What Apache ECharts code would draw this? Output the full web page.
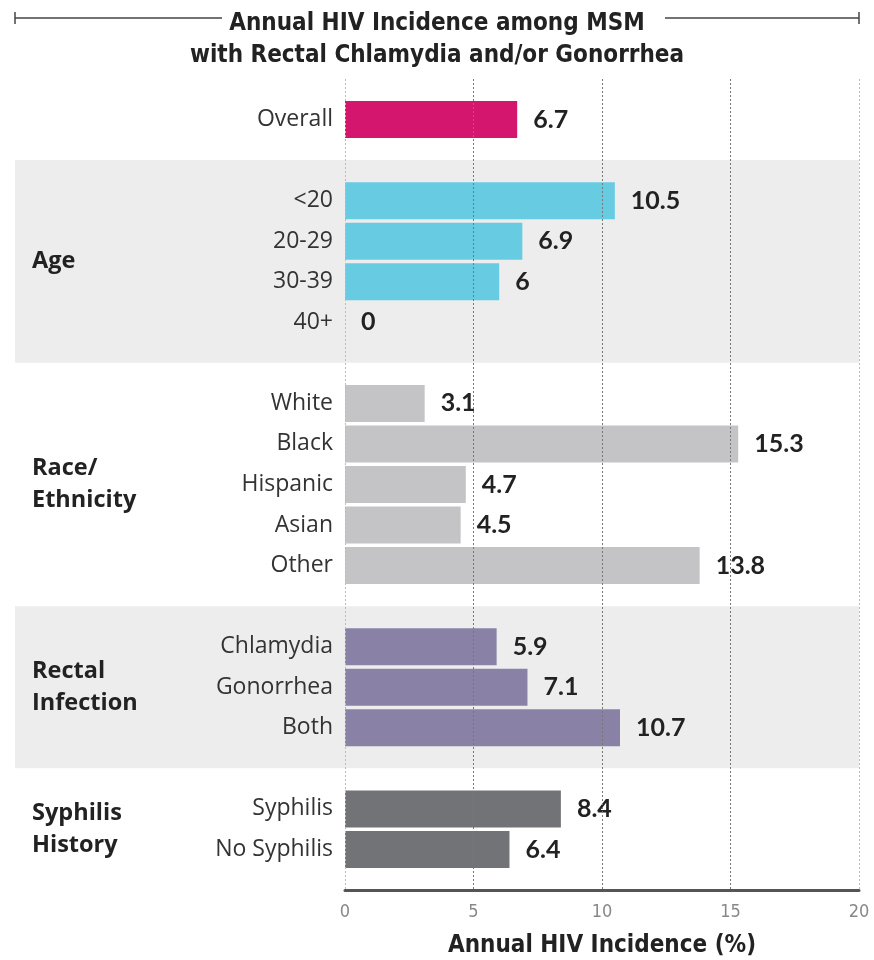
<!DOCTYPE html>
<html>
<head>
<meta charset="utf-8">
<script src="https://cdn.jsdelivr.net/npm/echarts@6/dist/echarts.min.js"></script>
<style>
  html, body { margin: 0; padding: 0; background: #fff; }
  #chart { width: 874px; height: 960px; }
</style>
</head>
<body>
<div id="chart"></div>
<script>
// values
const overallLabels = ['Overall'];
const overallValues = [6.7];
const ageLabels = ['<20', '20-29', '30-39', '40+'];
const ageValues = [10.5, 6.9, 6, 0];
const raceLabels = ['White', 'Black', 'Hispanic', 'Asian', 'Other'];
const raceValues = [3.1, 15.3, 4.7, 4.5, 13.8];
const infectionLabels = ['Chlamydia', 'Gonorrhea', 'Both'];
const infectionValues = [5.9, 7.1, 10.7];
const syphilisLabels = ['Syphilis', 'No Syphilis'];
const syphilisValues = [8.4, 6.4];
const groupNames = ['Age', 'Race/\nEthnicity', 'Rectal\nInfection', 'Syphilis\nHistory'];
const xTicks = [0, 5, 10, 15, 20];

const colors = {
  overall: '#D4166F',
  age: '#67CCE2',
  race: '#C4C4C6',
  infection: '#8A82A6',
  syphilis: '#727376'
};

const condensed = "'Liberation Sans Narrow', 'DejaVu Sans Condensed', sans-serif";
const plain = "'Open Sans', Lato, sans-serif";
const numFont = "Lato, 'Open Sans', sans-serif";

// '_' entries are empty slots between groups
const groups = [
  { labels: overallLabels, values: overallValues, color: colors.overall },
  { labels: ageLabels, values: ageValues, color: colors.age },
  { labels: raceLabels, values: raceValues, color: colors.race },
  { labels: infectionLabels, values: infectionValues, color: colors.infection },
  { labels: syphilisLabels, values: syphilisValues, color: colors.syphilis }
];
const categories = ['_top'];
const barData = ['-'];
groups.forEach((g, i) => {
  if (i > 0) { categories.push('_g' + i); barData.push('-'); }
  g.labels.forEach((l, j) => {
    categories.push(l);
    barData.push({ value: g.values[j], itemStyle: { color: g.color } });
  });
});
categories.push('_bottom');
barData.push('-');

const bandEdges = ['_g1', '_g2', '_g3', '_g4', '_bottom'];
const bandFill = ['#EDEDED', 'rgba(0,0,0,0)', '#EDEDED', 'rgba(0,0,0,0)'];
const areas = groupNames.map((name, i) => [
  { name: name, x: 15, yAxis: bandEdges[i], itemStyle: { color: bandFill[i] } },
  { yAxis: bandEdges[i + 1] }
]);

const chart = echarts.init(document.getElementById('chart'));
chart.setOption({
  animation: false,
  title: {
    text: 'Annual HIV Incidence among MSM\nwith Rectal Chlamydia and/or Gonorrhea',
    left: 'center',
    top: 3,
    textStyle: {
      fontFamily: condensed,
      fontSize: 24,
      fontWeight: 'bold',
      lineHeight: 32,
      color: '#222'
    }
  },
  graphic: [
    { type: 'line', shape: { x1: 15, y1: 18, x2: 222, y2: 18 }, style: { stroke: '#444', lineWidth: 1.5 } },
    { type: 'line', shape: { x1: 15, y1: 12, x2: 15, y2: 24 }, style: { stroke: '#444', lineWidth: 1.5 } },
    { type: 'line', shape: { x1: 665, y1: 18, x2: 859, y2: 18 }, style: { stroke: '#444', lineWidth: 1.5 } },
    { type: 'line', shape: { x1: 859, y1: 12, x2: 859, y2: 24 }, style: { stroke: '#444', lineWidth: 1.5 } }
  ],
  grid: { left: 345, right: 15, top: 79, bottom: 70, outerBoundsMode: 'none' },
  xAxis: {
    type: 'value',
    min: xTicks[0],
    max: xTicks[xTicks.length - 1],
    interval: xTicks[1] - xTicks[0],
    z: 10,
    name: 'Annual HIV Incidence (%)',
    nameLocation: 'middle',
    nameGap: 44,
    nameTextStyle: { fontFamily: condensed, fontSize: 24, fontWeight: 'bold', color: '#222' },
    axisLine: { show: true, lineStyle: { color: '#555', width: 3 } },
    axisTick: { show: false },
    axisLabel: { color: '#888', fontSize: 18, fontFamily: condensed, margin: 13 },
    splitLine: {
      show: true,
      lineStyle: { type: [2, 2], width: 1, color: ['#bbb', '#777', '#777', '#777', '#bbb'] }
    }
  },
  yAxis: {
    type: 'category',
    inverse: true,
    data: categories,
    boundaryGap: false,
    z: 10,
    axisLine: { show: false },
    axisTick: { show: false },
    splitLine: { show: false },
    axisLabel: {
      interval: 0,
      margin: 12,
      fontSize: 23,
      fontFamily: plain,
      color: '#333',
      formatter: v => (v.charAt(0) === '_' ? '' : v)
    }
  },
  series: [{
    type: 'line',
    data: [],
    silent: true,
    markArea: {
      silent: true,
      label: {
        position: 'insideLeft',
        distance: 17,
        fontFamily: plain,
        fontSize: 23.5,
        fontWeight: 'bold',
        lineHeight: 32,
        color: '#222',
        align: 'left'
      },
      data: areas
    }
  }, {
    type: 'bar',
    data: barData,
    barWidth: 37,
    label: {
      show: true,
      position: 'right',
      distance: 16,
      fontFamily: numFont,
      fontSize: 25,
      fontWeight: 'bold',
      color: '#222'
    }
  }]
});
</script>
</body>
</html>
